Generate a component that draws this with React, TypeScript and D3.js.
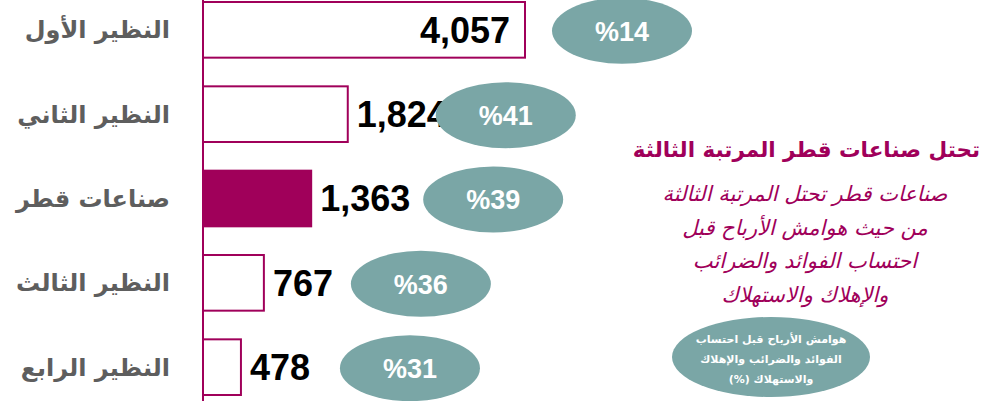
import React from "react";
import * as d3 from "d3";

const categories = ["النظير الأول", "النظير الثاني", "صناعات قطر", "النظير الثالث", "النظير الرابع"];
const values = [4057, 1824, 1363, 767, 478];
const margins = [14, 41, 39, 36, 31];
const highlight = "صناعات قطر";
const title = "تحتل صناعات قطر المرتبة الثالثة";
const subtitleLines = [
  "صناعات قطر تحتل المرتبة الثالثة",
  "من حيث هوامش الأرباح قبل",
  "احتساب الفوائد والضرائب",
  "والإهلاك والاستهلاك",
];
const legendLines = [
  "هوامش الأرباح قبل احتساب",
  "الفوائد والضرائب والإهلاك",
  "والاستهلاك (%)",
];

// layout constants (offset of bubble centre from bar end)
const bubbleOffsets = [97, 158, 182, 157, 169];

const W = 981;
const H = 401;
const MAGENTA = "#A0005A";
const TEAL = "#7AA6A6";
const GRAY = "#5E5E5E";
const ARABIC = "'DejaVu Sans', sans-serif";
const LATIN = "'Liberation Sans', Arial, sans-serif";

export default function App() {
  const x0 = 203;
  const x = d3.scaleLinear().domain([0, 4057]).range([x0, 525]);
  const y = d3
    .scaleBand<string>()
    .domain(categories)
    .range([2, 395])
    .paddingInner(0.34)
    .paddingOuter(0);
  const fmt = d3.format(",");

  return (
    <svg
      width={W}
      height={H}
      style={{ position: "absolute", left: 0, top: 0, background: "#fff" }}
    >
      <line x1={x0} x2={x0} y1={0} y2={H} stroke={MAGENTA} strokeWidth={2} />
      {categories.map((c, i) => {
        const yy = y(c)!;
        const bw = y.bandwidth();
        const xe = x(values[i]);
        const cy = yy + bw / 2;
        const inside = i === 0;
        const isHi = c === highlight;
        const bcx = xe + bubbleOffsets[i];
        return (
          <g key={c}>
            <text
              x={170}
              y={cy}
              dy="0.35em"
              textAnchor="end"
              fontFamily={ARABIC}
              fontWeight="bold"
              fontSize={24}
              fill={GRAY}
            >
              {c}
            </text>
            <rect
              x={x0}
              y={yy}
              width={xe - x0}
              height={bw}
              fill={isHi ? MAGENTA : "#fff"}
              stroke={MAGENTA}
              strokeWidth={2}
            />
            <text
              x={inside ? xe - 15 : xe + 9}
              y={cy}
              dy="0.36em"
              textAnchor={inside ? "end" : "start"}
              fontFamily={LATIN}
              fontWeight="bold"
              fontSize={36}
              fill="#000"
            >
              {fmt(values[i])}
            </text>
            <ellipse cx={bcx} cy={cy + 1} rx={70} ry={33} fill={TEAL} />
            <text
              x={bcx}
              y={cy + 1}
              dy="0.36em"
              textAnchor="middle"
              fontFamily={LATIN}
              fontWeight="bold"
              fontSize={27}
              fill="#fff"
            >
              {"%" + margins[i]}
            </text>
          </g>
        );
      })}
      <text
        x={980}
        y={157}
        textAnchor="end"
        fontFamily={ARABIC}
        fontWeight="bold"
        fontSize={21.5}
        fill={MAGENTA}
      >
        {title}
      </text>
      {subtitleLines.map((t, i) => (
        <text
          key={i}
          x={805}
          y={201 + i * 33.7}
          textAnchor="middle"
          fontFamily={ARABIC}
          fontStyle="italic"
          fontSize={21}
          fill={MAGENTA}
        >
          {t}
        </text>
      ))}
      <ellipse cx={771} cy={357} rx={99} ry={40} fill={TEAL} />
      {legendLines.map((t, i) => (
        <text
          key={i}
          x={771}
          y={339 + i * 20}
          dy="0.35em"
          textAnchor="middle"
          direction="rtl"
          fontFamily={ARABIC}
          fontWeight="bold"
          fontSize={11}
          fill="#fff"
        >
          {t}
        </text>
      ))}
    </svg>
  );
}
